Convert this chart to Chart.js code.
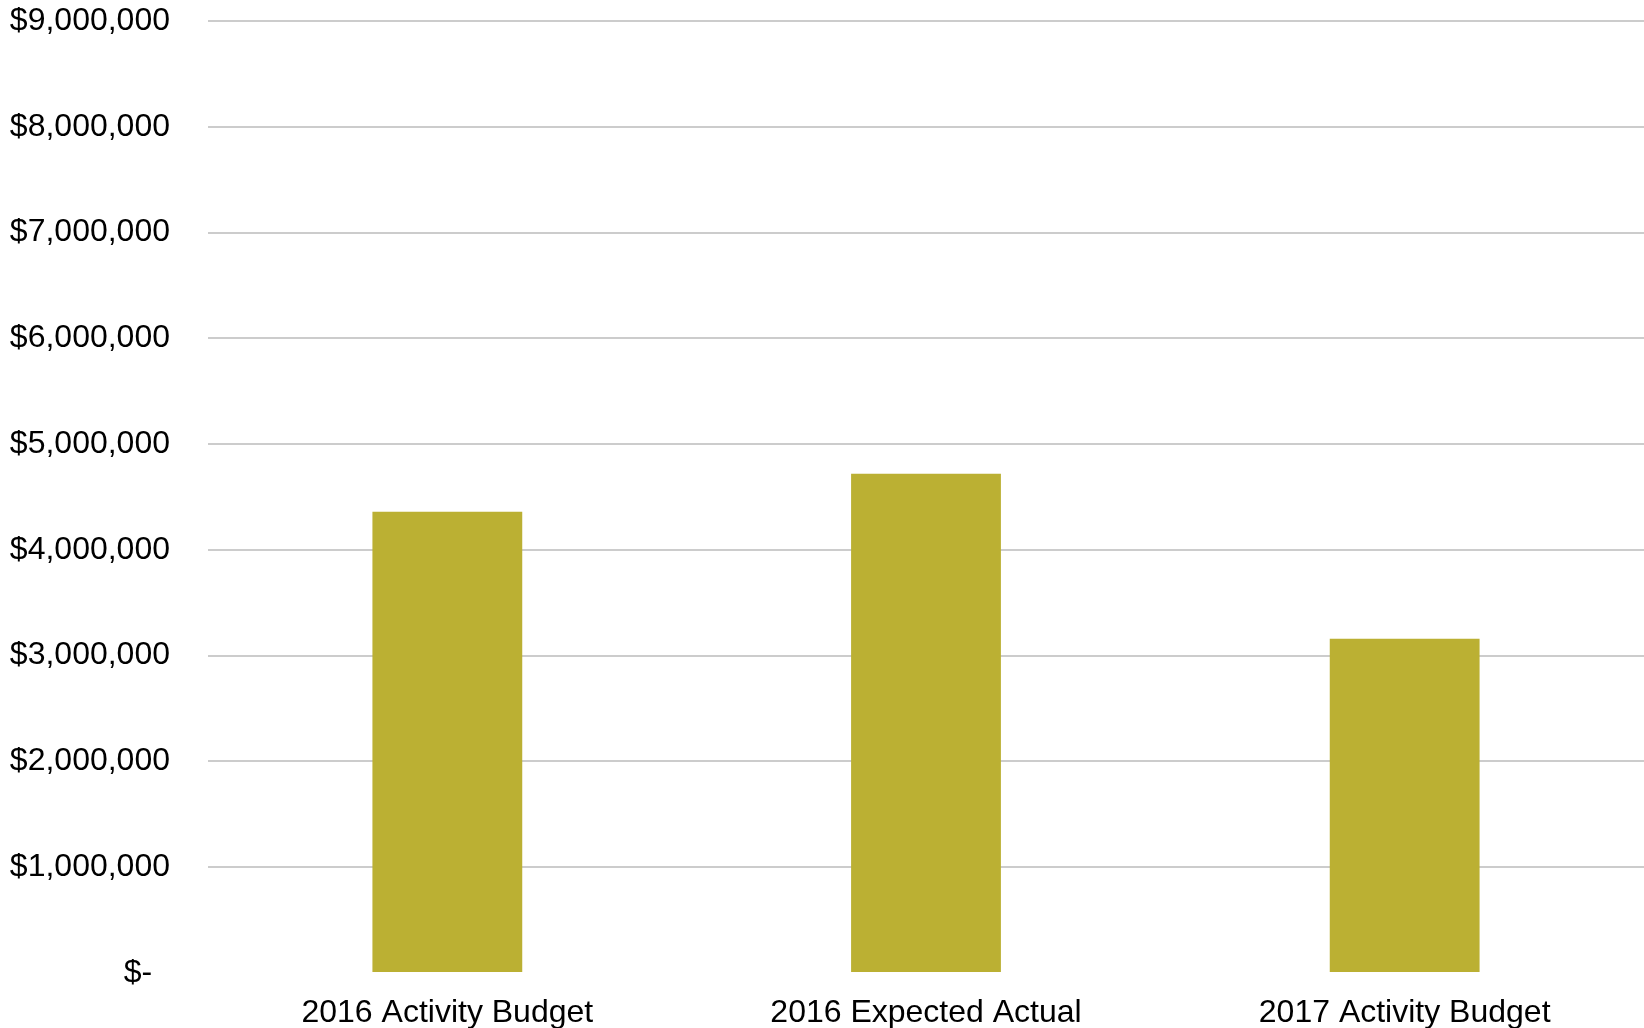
<!DOCTYPE html>
<html>
<head>
<meta charset="utf-8">
<script src="https://cdn.jsdelivr.net/npm/chart.js@4/dist/chart.umd.min.js"></script>
<style>
  html, body { margin: 0; padding: 0; background: #fff; overflow: hidden; }
  #wrap { width: 1644px; height: 1028px; position: relative; }
</style>
</head>
<body>
<div id="wrap"><canvas id="budget"></canvas></div>
<script>
// budget comparison data
const categories = ['2016 Activity Budget', '2016 Expected Actual', '2017 Activity Budget'];
const amounts = [4360000, 4720000, 3160000];
const yTicks = [0, 1000000, 2000000, 3000000, 4000000, 5000000, 6000000, 7000000, 8000000, 9000000];

const OLIVE = '#bbb033';
const GRID = '#cccccc';
const FONT = { family: '"Liberation Sans", Arial, sans-serif', size: 32 };

// accounting style: zero shows as a dash, padded like the other amounts
function money(v) {
  if (v === 0) return '$-  ';
  return '$' + v.toLocaleString('en-US');
}

new Chart(document.getElementById('budget'), {
  type: 'bar',
  data: {
    labels: categories,
    datasets: [{
      data: amounts,
      backgroundColor: OLIVE,
      borderWidth: 0,
      categoryPercentage: 1,
      barPercentage: 0.313
    }]
  },
  options: {
    responsive: true,
    maintainAspectRatio: false,
    animation: false,
    layout: { padding: 0 },
    plugins: { legend: { display: false }, tooltip: { enabled: false } },
    scales: {
      x: {
        grid: { display: false, drawTicks: false },
        border: { display: false },
        ticks: { color: '#000', font: FONT, padding: 21, maxRotation: 0 },
        afterFit: s => { s.height = 55; }
      },
      y: {
        min: 0, max: 9000000,
        afterBuildTicks: s => { s.ticks = yTicks.map(v => ({ value: v })); },
        grid: {
          drawTicks: false,
          lineWidth: 2,
          color: ctx => (ctx.tick && ctx.tick.value === 0) ? 'rgba(0,0,0,0)' : GRID
        },
        border: { display: false },
        ticks: { color: '#000', font: FONT, padding: 38, callback: v => money(v) },
        afterFit: s => { s.width = 208; s.paddingTop = 21; s.paddingBottom = 0; }
      }
    }
  }
});
</script>
</body>
</html>
